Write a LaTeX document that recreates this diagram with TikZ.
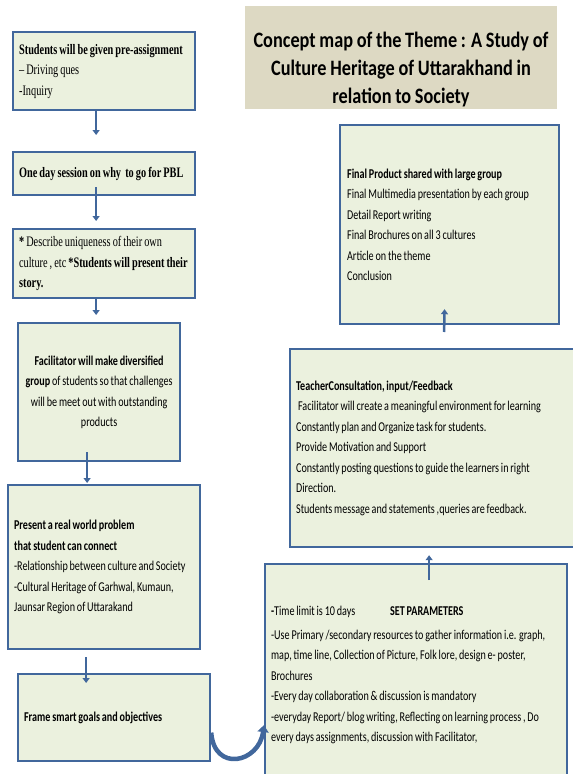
\documentclass[tikz,border=0pt]{standalone}
\usepackage{fontspec}
\usepackage{xcolor}
\usepackage{tikz}
\usetikzlibrary{arrows.meta}
\newfontfamily\calf[FakeStretch=0.75,WordSpace=0.8]{Carlito}
\newfontfamily\titlef[FakeStretch=0.83,WordSpace=0.9]{Carlito}
\newfontfamily\timesf[FakeStretch=0.71,WordSpace=0.8]{Liberation Serif}
\definecolor{boxfill}{HTML}{EBF1DE}
\definecolor{boxline}{HTML}{41679C}
\definecolor{titlefill}{HTML}{DDD9C3}
\tikzset{
  cm_box/.style = {rectangle, draw=boxline, fill=boxfill, line width=2.2pt,
    anchor=north west, inner xsep=6pt, inner ysep=0pt, align=flush left,
    font=\calf\fontsize{13.5}{20.5}\selectfont},
  cm_serif/.style = {cm_box, inner xsep=4pt, font=\timesf\fontsize{14.5}{20.5}\selectfont},% boites du haut
  cm_title/.style = {align=center, inner sep=0pt,
    font=\titlef\bfseries\fontsize{22}{28}\selectfont},
  cm_arrow/.style = {draw=boxline, line width=2.5pt,
    -{Triangle[width=7pt,length=5pt]}},
  cm_curve/.style = {cm_arrow, line width=4.5pt,
    -{Triangle[width=11pt,length=7pt]}}
}
\begin{document}
\begin{tikzpicture}[x=1pt,y=-1pt]
\useasboundingbox (0,0) rectangle (573,774);
% titre
\fill[titlefill] (245,6) rectangle (557,109);
\node[cm_title] (title) at (401,70) {Concept map of the Theme : A Study of\\
  Culture Heritage of Uttarakhand in\\relation to Society};
% colonne de gauche
\node[cm_serif, minimum width=182pt, minimum height=78pt, text width=174pt]
  (pre) at (12,31) {\hspace{2pt}\textbf{Students will be given pre-assignment}\\
  \hspace{2pt}– Driving ques\\\hspace{2pt}-Inquiry};
\node[cm_serif, minimum width=182pt, minimum height=43pt, text width=174pt]
  (session) at (12,151) {\hspace{2pt}\textbf{One day session on why\ \ to go for PBL}};
\node[cm_serif, minimum width=182pt, minimum height=69pt, text width=174pt]
  (story) at (12,228) {\hspace{2pt}\textbf{*} Describe uniqueness of their own\\
  \hspace{2pt}culture , etc \textbf{*Students will present their}\\\hspace{2pt}\textbf{story.}};
\node[cm_box, align=flush center, inner xsep=2pt, minimum width=162pt, minimum height=138pt, text width=158pt]
  (group) at (17,322) {\textbf{Facilitator will make diversified}\\
  \textbf{group} of students so that challenges\\
  will be meet out with outstanding\\products};
\node[cm_box, minimum width=192pt, minimum height=164pt, text width=180pt]
  (problem) at (7,484) {\textbf{Present a real world problem}\\
  \textbf{that student can connect}\\
  -Relationship between culture and Society\\
  -Cultural Heritage of Garhwal, Kumaun,\\
  Jaunsar Region of Uttarakand};
\node[cm_box, minimum width=192pt, minimum height=87pt, text width=180pt]
  (goals) at (17,673) {\textbf{Frame smart goals and objectives}};
% colonne de droite
\node[cm_box, minimum width=302pt, minimum height=222pt, text width=290pt]
  (params) at (264,563) {\makebox[119pt][l]{\textbf{-}Time limit is 10 days}\textbf{SET PARAMETERS}\\[3.5pt]
  -Use Primary /secondary resources to gather information i.e. graph,\\
  map, time line, Collection of Picture, Folk lore, design e- poster,\\
  Brochures\\
  -Every day collaboration \& discussion is mandatory\\
  -everyday Report/ blog writing, Reflecting on learning process , Do\\
  every days assignments, discussion with Facilitator,};
\node[cm_box, minimum width=292pt, minimum height=198pt, text width=280pt]
  (consult) at (289,348) {\textbf{TeacherConsultation, input/Feedback}\\
  \hspace{2pt}Facilitator will create a meaningful environment for learning\\
  Constantly plan and Organize task for students.\\
  Provide Motivation and Support\\
  Constantly posting questions to guide the learners in right\\
  Direction.\\
  Students message and statements ,queries are feedback.};
\node[cm_box, minimum width=218pt, minimum height=199pt, text width=205pt, inner xsep=7pt]
  (final) at (339,124) {\textbf{Final Product shared with large group}\\
  Final Multimedia presentation by each group\\
  Detail Report writing\\
  Final Brochures on all 3 cultures\\
  Article on the theme\\
  Conclusion};
% fleches
\draw[cm_arrow] ([xshift=-8pt]pre.south) -- ([xshift=-8pt,yshift=16pt]session.north);
\draw[cm_arrow] ([xshift=-8pt,yshift=9pt]session.south) -- ([xshift=-8pt,yshift=7pt]story.north);
\draw[cm_arrow] ([xshift=-8pt]story.south) -- ([xshift=-3pt,yshift=7pt]group.north);
\draw[cm_arrow] ([xshift=-12pt,yshift=10pt]group.south) -- ([xshift=-17pt,yshift=1pt]problem.north);
\draw[cm_arrow] ([xshift=-18pt,yshift=-7pt]problem.south) -- ([xshift=-28pt,yshift=-10pt]goals.north);
\draw[cm_curve] ([yshift=-15pt]goals.east) .. controls +(3,40) and +(-5,38) .. ([yshift=-50pt]params.west);
\draw[cm_arrow] ([xshift=13pt,yshift=-17pt]params.north) -- ([xshift=-7pt,yshift=-7pt]consult.south);
\draw[cm_arrow] ([xshift=8pt,yshift=16pt]consult.north) -- ([xshift=-5pt,yshift=16pt]final.south);
\end{tikzpicture}
\end{document}
